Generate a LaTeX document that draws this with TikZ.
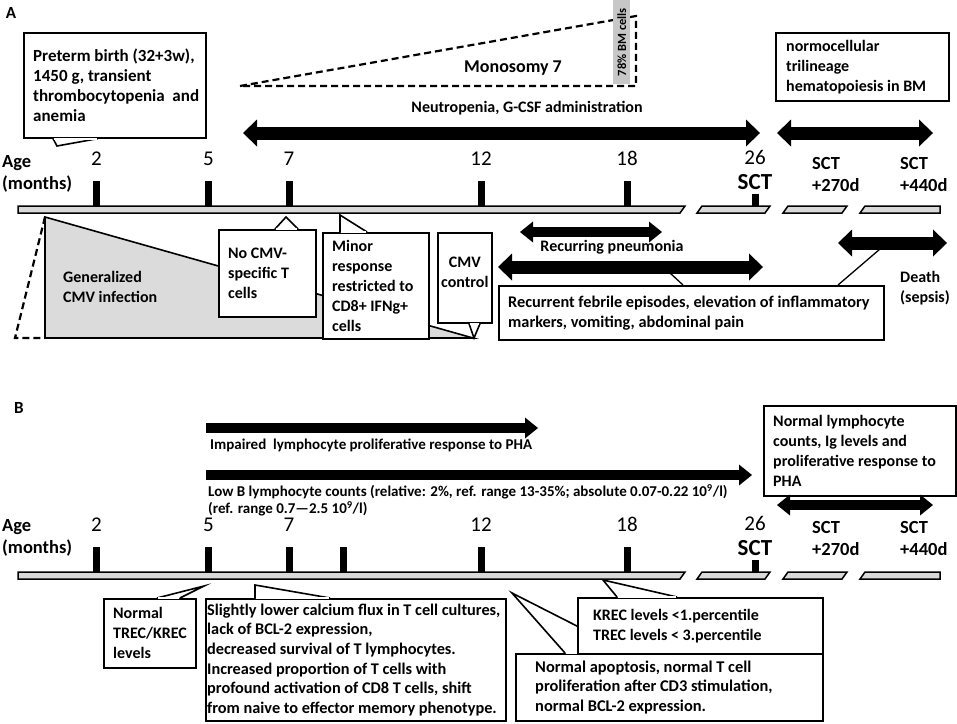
\documentclass[tikz,border=0pt]{standalone}
\usepackage{fontspec}
\setmainfont{Carlito}
\usetikzlibrary{arrows.meta,positioning}

\begin{document}
\begin{tikzpicture}[x=1pt,y=-1pt,
		txt/.style={font=\fontsize{16}{20}\selectfont\bfseries,inner sep=0pt,align=left},
		bigtxt/.style={font=\fontsize{17}{20}\selectfont\bfseries,inner sep=0pt,align=left},
		widetxt/.style={font=\fontsize{16.3}{19.6}\selectfont\bfseries,inner sep=0pt,align=left},
		smalltxt/.style={font=\fontsize{15}{17}\selectfont\bfseries,inner sep=0pt,align=left},
		agelbl/.style={font=\fontsize{18.5}{22}\selectfont\bfseries,inner sep=0pt,align=left,anchor=west},
		agenum/.style={font=\fontsize{21}{21}\selectfont,inner sep=0pt},
		sctbig/.style={font=\fontsize{23}{23}\selectfont\bfseries,inner sep=0pt},
		panel/.style={font=\fontsize{17}{17}\selectfont\bfseries,inner sep=0pt},
		box/.style={draw,line width=1.6pt,fill=white,rectangle,anchor=north west,inner sep=0pt},
		tick/.style={fill=black,inner sep=0pt,minimum width=7pt,minimum height=25pt,anchor=south},
		bar/.style={draw,line width=1.5pt,fill=black!15},
		ptr/.style={draw,line width=1.6pt,fill=white},
		gap/.style={white,line width=2pt,shorten <=1.3pt,shorten >=1.3pt},
		link/.style={line width=1.3pt},
		monodash/.style={line width=2.2pt,dash pattern=on 7pt off 4pt},
		fat/.style={line width=13pt,{Triangle[length=14pt,width=27pt,line width=0pt]}-{Triangle[length=14pt,width=27pt,line width=0pt]}},
		slim/.style={line width=10pt,{Triangle[length=13pt,width=21pt,line width=0pt]}-{Triangle[length=13pt,width=21pt,line width=0pt]}},
		slimone/.style={line width=10pt,-{Triangle[length=13pt,width=21pt,line width=0pt]}}
	]
	\useasboundingbox (0,0) rectangle (957,723);
	
	% ---------- Panel A ----------
	\node[panel] (panelA) at (11,13) {A};
	
	% Preterm birth
	\node[box,minimum width=182pt,minimum height=105pt] (preterm) at (23,32) {};
	\coordinate (pretip) at (57,146);
	\path[ptr] ([xshift=30pt]preterm.south west) -- (pretip) -- ([xshift=75pt]preterm.south west);
	\draw[gap] ([xshift=30pt]preterm.south west) -- ([xshift=75pt]preterm.south west);
	\node[bigtxt,right=10pt of preterm.west] {Preterm birth (32+3w),\\1450 g, transient\\thrombocytopenia\ \ and\\anemia};
	
	% Monosomy 7
	\draw[monodash] (240,86) -- (636,16) -- (636,86) -- cycle;
	\node[fill=black!22,inner sep=0pt,minimum width=17pt,minimum height=84pt,anchor=north west] (bm) at (613,0) {};
	\node[font=\fontsize{12.5}{12.5}\selectfont\bfseries,rotate=90,inner sep=0pt] at (bm.center) {78\% BM cells};
	\node[font=\fontsize{18}{18}\selectfont\bfseries] (mono) at (513,68) {Monosomy 7};
	
	% Neutropenia
	\node[txt] (neutxt) at (527,108) {Neutropenia, G-CSF administration};
	\coordinate (neuL) at (243,133);
	\coordinate (neuR) at (760,133);
	\draw[fat] (neuL) -- (neuR);
	
	% normocellular
	\node[box,minimum width=173pt,minimum height=68pt] (normo) at (775,32) {};
	\node[txt,right=11pt of normo.west] {normocellular\\trilineage\\hematopoiesis in BM};
	\coordinate (sctAL) at (777,133);
	\coordinate (sctAR) at (933,133);
	\draw[fat] (sctAL) -- (sctAR);
	
	% Age axis
	\node[agelbl] (ageA) at (2,174) {Age\\(months)};
	\node[tick] (tA2) at (96.5,206) {};
	\node[tick] (tA5) at (208.5,206) {};
	\node[tick] (tA7) at (289,206) {};
	\node[tick] (tA12) at (481,206) {};
	\node[tick] (tA18) at (627,206) {};
	\node[tick,minimum height=12pt] (tA26) at (755,206) {};
	\node[agenum,above=15pt of tA2] {2};
	\node[agenum,above=15pt of tA5] {5};
	\node[agenum,above=15pt of tA7] {7};
	\node[agenum,above=15pt of tA12] {12};
	\node[agenum,above=15pt of tA18] {18};
	\node[sctbig,above=4pt of tA26] (sctA) {SCT};
	\node[agenum,above=9pt of sctA] {26};
	\node[agelbl] (d270A) at (812,174) {SCT\\+270d};
	\node[agelbl] (d440A) at (900,174) {SCT\\+440d};
	\path[bar] (18,206) -- (685,206) -- (680,213) -- (18,213) -- cycle;
	\path[bar] (702,206) -- (770,206) -- (765,213) -- (697,213) -- cycle;
	\path[bar] (788,206) -- (847,206) -- (842,213) -- (783,213) -- cycle;
	\path[bar] (865,206) -- (940,206) -- (940,213) -- (860,213) -- cycle;
	
	% Generalized CMV infection
	\path[fill=black!14,draw,line width=1.6pt] (45,217) -- (473,338) -- (45,338) -- cycle;
	\draw[monodash] (45,217) -- (15,338) -- (45,338);
	\node[txt,anchor=west] (cmvtxt) at (63,287) {Generalized\\CMV infection};
	
	% No CMV-specific T cells
	\node[box,minimum width=97pt,minimum height=87pt] (nocmv) at (218,229) {};
	\coordinate (nocmvtip) at (286,217);
	\path[ptr] ([xshift=57pt]nocmv.north west) -- (nocmvtip) -- ([xshift=80pt]nocmv.north west);
	\draw[gap] ([xshift=57pt]nocmv.north west) -- ([xshift=80pt]nocmv.north west);
	\node[txt,right=10pt of nocmv.west] {No CMV-\\specific T\\cells};
	
	% Minor response
	\node[box,minimum width=106pt,minimum height=106pt] (minor) at (322,232) {};
	\coordinate (minortip) at (340,215);
	\path[ptr] ([xshift=18pt]minor.north west) -- (minortip) -- ([xshift=45pt]minor.north west);
	\draw[gap] ([xshift=18pt]minor.north west) -- ([xshift=45pt]minor.north west);
	\node[txt,right=10pt of minor.west] {Minor\\response\\restricted to\\CD8+ IFNg+\\cells};
	
	% CMV control
	\node[box,minimum width=54pt,minimum height=90pt] (ctl) at (437,232) {};
	\coordinate (ctltip) at (474,338);
	\path[ptr] ([xshift=32pt]ctl.south west) -- (ctltip) -- ([xshift=43pt]ctl.south west);
	\draw[gap] ([xshift=32pt]ctl.south west) -- ([xshift=43pt]ctl.south west);
	\node[txt,align=center] at ([yshift=5pt]ctl.center) {CMV\\control};
	
	% Recurring pneumonia
	\coordinate (pneuL) at (520,232);
	\coordinate (pneuR) at (662,232);
	\draw[slim] (pneuL) -- (pneuR);
	\node[txt] (pneutxt) at (612,247) {Recurring pneumonia};
	
	% Recurrent febrile episodes, death
	\coordinate (fevL) at (498,267);
	\coordinate (fevR) at (763,267);
	\draw[fat] (fevL) -- (fevR);
	\coordinate (deathL) at (838,243);
	\coordinate (deathR) at (947,243);
	\draw[fat] (deathL) -- (deathR);
	\node[box,minimum width=385pt,minimum height=54pt] (febrile) at (498,285) {};
	\node[txt,font=\fontsize{16.3}{20}\selectfont\bfseries,right=10pt of febrile.west] {Recurrent febrile episodes, elevation of inflammatory\\markers, vomiting, abdominal pain};
	\coordinate (fevhook) at (670,273);
	\coordinate (deathhook) at (880,249);
	\draw[link] ([xshift=185pt]febrile.north west) -- (fevhook);
	\draw[link] ([xshift=340pt]febrile.north west) -- (deathhook);
	\node[txt,anchor=west] (deathtxt) at (900,288) {Death\\(sepsis)};
	
	% ---------- Panel B ----------
	\node[panel] (panelB) at (19,408) {B};
	
	% Impaired proliferative response, low B counts
	\coordinate (impL) at (206,428);
	\coordinate (impR) at (538,428);
	\draw[slimone] (impL) -- (impR);
	\node[smalltxt,anchor=west] (imptxt) at (210,445) {Impaired\ \ lymphocyte proliferative response to PHA};
	\coordinate (lowL) at (206,475);
	\coordinate (lowR) at (752,475);
	\draw[slimone] (lowL) -- (lowR);
	\node[smalltxt,anchor=west] (lowtxt) at (208,500) {Low B lymphocyte counts (relative: 2\%, ref. range 13-35\%; absolute 0.07-0.22 10\textsuperscript{9}/l)\\(ref. range 0.7—2.5 10\textsuperscript{9}/l)};
	
	% Normal lymphocyte counts
	\node[box,minimum width=192pt,minimum height=90pt] (normlym) at (763,405) {};
	\node[txt,right=10pt of normlym.west] {Normal lymphocyte\\counts, Ig levels and\\proliferative response to\\PHA};
	\coordinate (sctBL) at (777,505);
	\coordinate (sctBR) at (933,505);
	\draw[slim] (sctBL) -- (sctBR);
	
	% Age axis
	\node[agelbl] (ageB) at (2,538) {Age\\(months)};
	\node[tick] (tB2) at (96.5,572) {};
	\node[tick] (tB5) at (208.5,572) {};
	\node[tick] (tB7) at (289,572) {};
	\node[tick] (tB9) at (343.5,572) {};
	\node[tick] (tB12) at (481,572) {};
	\node[tick] (tB18) at (627,572) {};
	\node[tick,minimum height=12pt] (tB26) at (755,572) {};
	\node[agenum,above=15pt of tB2] {2};
	\node[agenum,above=15pt of tB5] {5};
	\node[agenum,above=15pt of tB7] {7};
	\node[agenum,above=15pt of tB12] {12};
	\node[agenum,above=15pt of tB18] {18};
	\node[sctbig,above=4pt of tB26] (sctB) {SCT};
	\node[agenum,above=9pt of sctB] {26};
	\node[agelbl] (d270B) at (812,538) {SCT\\+270d};
	\node[agelbl] (d440B) at (900,538) {SCT\\+440d};
	\path[bar] (18,572) -- (685,572) -- (680,579) -- (18,579) -- cycle;
	\path[bar] (702,572) -- (770,572) -- (765,579) -- (697,579) -- cycle;
	\path[bar] (788,572) -- (847,572) -- (842,579) -- (783,579) -- cycle;
	\path[bar] (865,572) -- (940,572) -- (940,579) -- (860,579) -- cycle;
	
	% Normal TREC/KREC levels
	\node[box,minimum width=92pt,minimum height=69pt] (trec) at (103,598) {};
	\coordinate (trectip) at (204,586);
	\path[ptr] ([xshift=54pt]trec.north west) -- (trectip) -- ([xshift=77pt]trec.north west);
	\draw[gap] ([xshift=54pt]trec.north west) -- ([xshift=77pt]trec.north west);
	\node[txt,right=10pt of trec.west] {Normal\\TREC/KREC\\levels};
	
	% Slightly lower calcium flux
	\node[box,minimum width=300pt,minimum height=122pt] (slight) at (205,598) {};
	\coordinate (slighttip) at (255,585);
	\path[ptr] ([xshift=50pt]slight.north west) -- (slighttip) -- ([xshift=125pt]slight.north west);
	\draw[gap] ([xshift=50pt]slight.north west) -- ([xshift=125pt]slight.north west);
	\node[widetxt,right=2pt of slight.west] {Slightly lower calcium flux in T cell cultures,\\lack of BCL-2 expression,\\decreased survival of T lymphocytes.\\Increased proportion of T cells with\\profound activation of CD8 T cells, shift\\from naive to effector memory phenotype.};
	
	% Normal apoptosis
	\node[box,minimum width=307pt,minimum height=67pt] (apop) at (515,653) {};
	\coordinate (apoptip) at (512,593);
	\path[ptr] ([xshift=50pt]apop.north west) -- (apoptip) -- ([xshift=115pt]apop.north west);
	\draw[gap] ([xshift=50pt]apop.north west) -- ([xshift=115pt]apop.north west);
	\node[txt,font=\fontsize{16.4}{19.5}\selectfont\bfseries,right=20pt of apop.west] {Normal apoptosis, normal T cell\\proliferation after CD3 stimulation,\\normal BCL-2 expression.};
	
	% KREC / TREC percentiles
	\node[box,minimum width=245pt,minimum height=56pt] (krec) at (577,597) {};
	\coordinate (krectip) at (603,580);
	\path[ptr] ([xshift=40pt]krec.north west) -- (krectip) -- ([xshift=100pt]krec.north west);
	\draw[gap] ([xshift=40pt]krec.north west) -- ([xshift=100pt]krec.north west);
	\node[txt,right=16pt of krec.west] {KREC levels <1.percentile\\TREC levels < 3.percentile};
	
\end{tikzpicture}
\end{document}
